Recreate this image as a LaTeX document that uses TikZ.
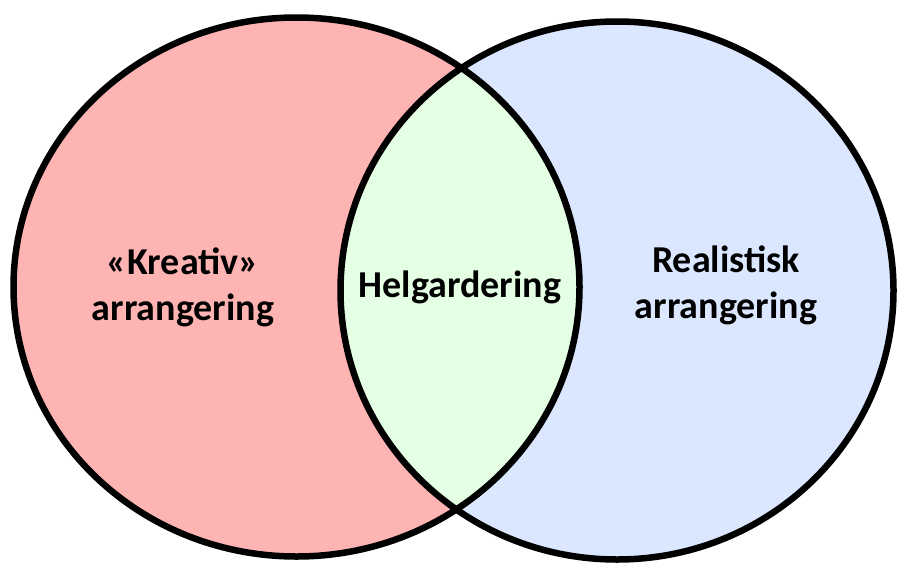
\documentclass[tikz,border=0pt]{standalone}
\usepackage{fontspec}
\setmainfont{Carlito}
\definecolor{leftfill}{RGB}{255,180,180}
\definecolor{rightfill}{RGB}{218,231,255}
\definecolor{lensfill}{RGB}{229,255,228}
\begin{document}
\begin{tikzpicture}[x=1pt,y=-1pt,
  ring/.style={line width=6.5pt,draw=black},
  lbl/.style={font=\bfseries\fontsize{38}{46}\selectfont,align=center,text=black}]
\useasboundingbox (0,0) rectangle (899,565);
\coordinate (cl) at (296.5,287);
\coordinate (cr) at (617,290.5);
\fill[leftfill] (cl) ellipse [x radius=283, y radius=269.5];
\fill[rightfill] (cr) ellipse [x radius=276.5, y radius=269];
\begin{scope}
  \clip (cl) ellipse [x radius=283, y radius=269.5];
  \fill[lensfill] (cr) ellipse [x radius=276.5, y radius=269];
\end{scope}
\draw[ring] (cl) ellipse [x radius=283, y radius=269.5];
\draw[ring] (cr) ellipse [x radius=276.5, y radius=269];
\node[lbl] (kreativ) at (183,287) {«Kreativ»\\arrangering};
\node[lbl] (helg) at (460,287) {Helgardering};
\node[lbl] (real) at (726,285) {Realistisk\\arrangering};
\end{tikzpicture}
\end{document}
